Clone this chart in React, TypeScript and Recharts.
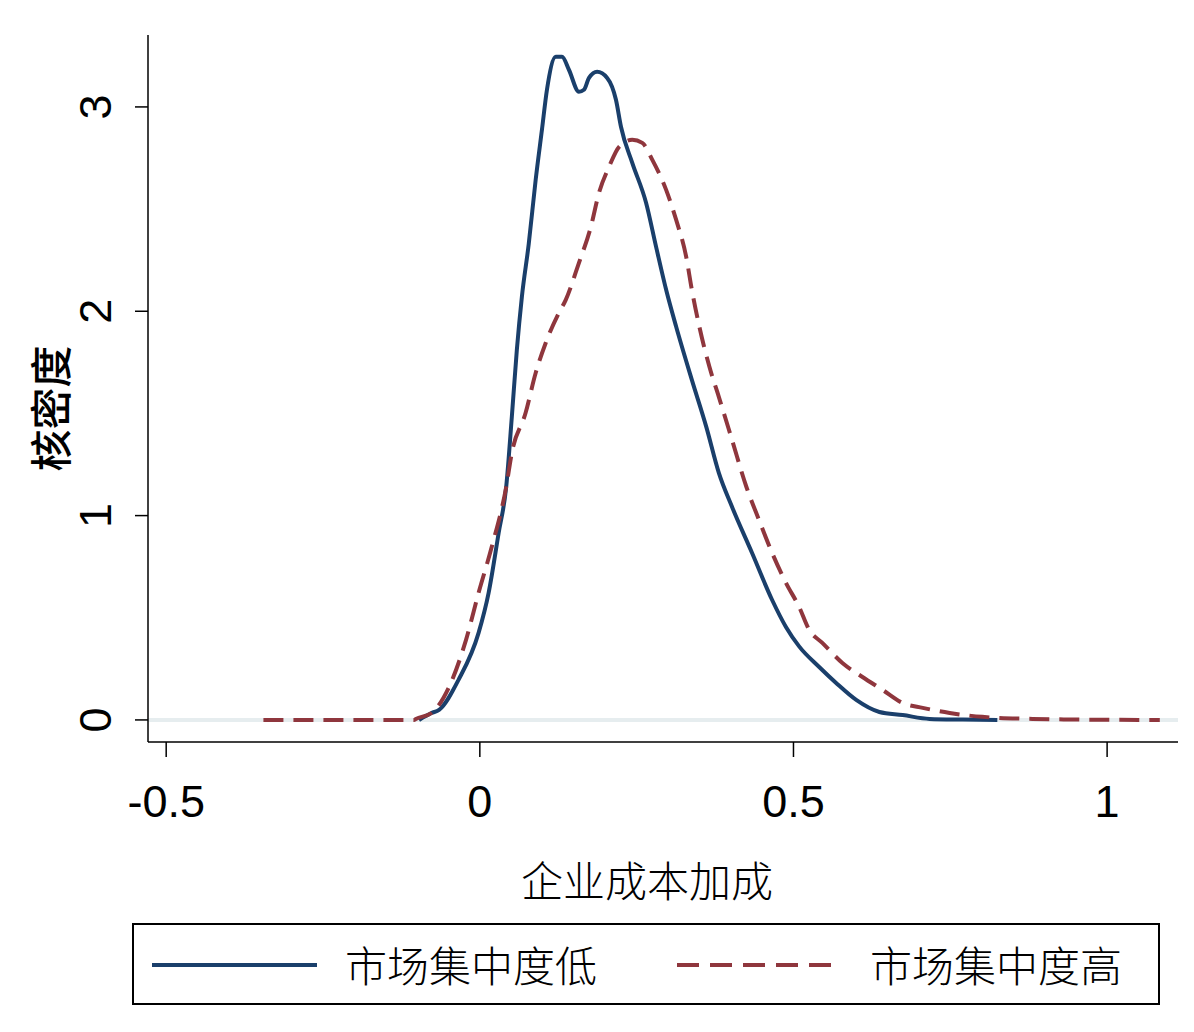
import React from 'react';
import { LineChart, Line, XAxis, YAxis, ReferenceLine, Legend, Label } from 'recharts';

// 市场集中度低 (low concentration) kernel density
const lowX = [-0.097, -0.077, -0.065, -0.034, -0.002, 0.014, 0.03, 0.042, 0.051, 0.059, 0.067, 0.078, 0.089, 0.099, 0.107, 0.121, 0.131, 0.142, 0.158, 0.166, 0.174, 0.187, 0.203, 0.217, 0.225, 0.243, 0.265, 0.281, 0.297, 0.313, 0.338, 0.361, 0.381, 0.402, 0.434, 0.466, 0.488, 0.509, 0.541, 0.568, 0.6, 0.637, 0.674, 0.717, 0.77, 0.825];
const lowDensity = [0, 0.034, 0.049, 0.196, 0.426, 0.622, 0.915, 1.14, 1.483, 1.811, 2.07, 2.33, 2.643, 2.888, 3.084, 3.245, 3.245, 3.182, 3.074, 3.084, 3.142, 3.172, 3.142, 3.035, 2.903, 2.726, 2.531, 2.315, 2.105, 1.924, 1.664, 1.434, 1.209, 1.043, 0.817, 0.587, 0.455, 0.36, 0.259, 0.181, 0.098, 0.039, 0.024, 0.005, 0.002, 0];

// 市场集中度高 (high concentration) kernel density
const highX = [-0.345, -0.3, -0.2, -0.105, -0.102, -0.077, -0.049, -0.022, -0.002, 0.019, 0.042, 0.051, 0.073, 0.089, 0.105, 0.126, 0.137, 0.158, 0.177, 0.19, 0.206, 0.222, 0.243, 0.259, 0.275, 0.297, 0.313, 0.329, 0.338, 0.35, 0.366, 0.381, 0.402, 0.425, 0.445, 0.466, 0.488, 0.509, 0.525, 0.546, 0.578, 0.61, 0.642, 0.674, 0.706, 0.749, 0.801, 0.881, 0.95, 1.084];
const highDensity = [0, 0, 0, 0, 0.005, 0.034, 0.162, 0.392, 0.622, 0.847, 1.14, 1.307, 1.503, 1.698, 1.845, 1.992, 2.056, 2.237, 2.413, 2.58, 2.707, 2.805, 2.839, 2.824, 2.741, 2.594, 2.447, 2.266, 2.105, 1.924, 1.728, 1.581, 1.371, 1.14, 0.979, 0.817, 0.671, 0.553, 0.441, 0.377, 0.279, 0.21, 0.147, 0.083, 0.059, 0.034, 0.015, 0.005, 0.002, 0];

const xTicks = [-0.5, 0, 0.5, 1];
const yTicks = [0, 1, 2, 3];
const seriesNames = ['市场集中度低', '市场集中度高'];
const seriesColors = ['#1a3f6b', '#8f363d'];
const xTitle = '企业成本加成';
const yTitle = '核密度';

const lowData = lowX.map((x, i) => ({ x, y: lowDensity[i] }));
const highData = highX.map((x, i) => ({ x, y: highDensity[i] }));

const NUM_FONT = '"Liberation Sans", Arial, sans-serif';
const CJK_FONT = '"Noto Sans CJK SC", "Noto Sans", sans-serif';

const YTick = (props: any) => {
  const { x, y, payload } = props;
  const cx = x - 37;
  return (
    <text
      x={cx}
      y={y}
      transform={`rotate(-90 ${cx} ${y})`}
      textAnchor="middle"
      dominantBaseline="central"
      fontSize={45}
      fontFamily={NUM_FONT}
      fill="#000"
    >
      {payload.value}
    </text>
  );
};

const LegendContent = () => {
  const items = [
    { name: seriesNames[0], color: seriesColors[0], dash: undefined, lineLeft: 16, textLeft: 211 },
    { name: seriesNames[1], color: seriesColors[1], dash: '22 11', lineLeft: 541, textLeft: 736 },
  ];
  return (
    <div
      style={{
        width: '100%',
        height: '100%',
        border: '2px solid #000',
        boxSizing: 'border-box',
        position: 'relative',
        background: '#fff',
      }}
    >
      {items.map((it) => (
        <React.Fragment key={it.name}>
          <svg style={{ position: 'absolute', left: it.lineLeft, top: 0 }} width={170} height={78}>
            <line x1={2} x2={167} y1={40} y2={40} stroke={it.color} strokeWidth={4} strokeDasharray={it.dash} />
          </svg>
          <span
            style={{
              position: 'absolute',
              left: it.textLeft,
              top: 0,
              height: 78,
              lineHeight: '78px',
              fontSize: 42,
              fontFamily: CJK_FONT,
              fontWeight: 300,
              color: '#000',
              whiteSpace: 'nowrap',
            }}
          >
            {it.name}
          </span>
        </React.Fragment>
      ))}
    </div>
  );
};

export default function App() {
  return (
    <div style={{ position: 'absolute', left: 0, top: 0, width: 1194, height: 1032, background: '#fff' }}>
      <LineChart width={1194} height={1032} margin={{ top: 35, right: 16, left: 0, bottom: 0 }}>
        <XAxis
          type="number"
          dataKey="x"
          domain={[-0.529, 1.113]}
          ticks={xTicks}
          allowDataOverflow
          height={290}
          tickSize={15}
          tickMargin={28}
          stroke="#000"
          strokeWidth={1.5}
          tick={{ fontSize: 45, fontFamily: NUM_FONT, fill: '#000' }}
          tickLine={{ stroke: '#000', strokeWidth: 1.5 }}
        >
          <Label
            content={(p: any) => {
              const vb = p.viewBox || { x: 148, y: 742, width: 1030 };
              return (
                <text
                  x={vb.x + vb.width / 2 - 16}
                  y={vb.y + 136}
                  textAnchor="middle"
                  dominantBaseline="central"
                  fontSize={42}
                  fontWeight={300}
                  fontFamily={CJK_FONT}
                  fill="#000"
                >
                  {xTitle}
                </text>
              );
            }}
          />
        </XAxis>
        <YAxis
          type="number"
          dataKey="y"
          domain={[-0.108, 3.352]}
          ticks={yTicks}
          allowDataOverflow
          width={148}
          tickSize={13}
          stroke="#000"
          strokeWidth={1.5}
          tick={<YTick />}
          tickLine={{ stroke: '#000', strokeWidth: 1.5 }}
        >
          <Label
            content={(p: any) => {
              const vb = p.viewBox || { x: 0, y: 35, height: 707 };
              const cx = 48;
              const cy = vb.y + vb.height / 2 + 20;
              return (
                <text
                  x={cx}
                  y={cy}
                  transform={`rotate(-90 ${cx} ${cy})`}
                  textAnchor="middle"
                  dominantBaseline="central"
                  fontSize={42}
                  fontWeight={500}
                  fontFamily={CJK_FONT}
                  fill="#000"
                >
                  {yTitle}
                </text>
              );
            }}
          />
        </YAxis>
        <ReferenceLine y={0} stroke="#e6edef" strokeWidth={4} />
        <Line
          data={lowData}
          dataKey="y"
          name={seriesNames[0]}
          type="monotone"
          stroke={seriesColors[0]}
          strokeWidth={4}
          dot={false}
          isAnimationActive={false}
        />
        <Line
          data={highData}
          dataKey="y"
          name={seriesNames[1]}
          type="monotone"
          stroke={seriesColors[1]}
          strokeWidth={4}
          strokeDasharray="20 10"
          dot={false}
          isAnimationActive={false}
        />
        <Legend
          layout="horizontal"
          verticalAlign="middle"
          align="center"
          wrapperStyle={{ left: 132, top: 923, width: 1028, height: 82 }}
          content={<LegendContent />}
        />
      </LineChart>
    </div>
  );
}
